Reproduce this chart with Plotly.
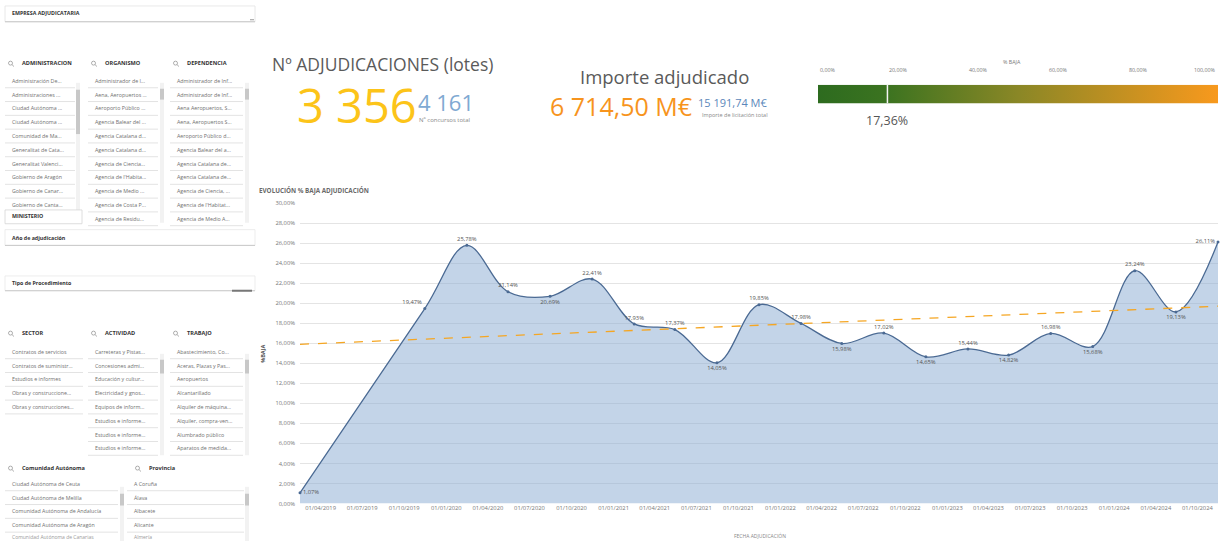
import plotly.graph_objects as go

W, H = 1223, 545
FONT = "Open Sans"

# ---------------- DATA ----------------
fechas = ["2019-02-15", "2019-11-15", "2020-02-15", "2020-05-15", "2020-08-15",
          "2020-11-15", "2021-02-15", "2021-05-15", "2021-08-15", "2021-11-15",
          "2022-02-15", "2022-05-15", "2022-08-15", "2022-11-15", "2023-02-15",
          "2023-05-15", "2023-08-15", "2023-11-15", "2024-02-15", "2024-05-15",
          "2024-08-15"]
baja_pct = [1.07, 19.47, 25.78, 21.14, 20.69, 22.41, 17.93, 17.37, 14.05, 19.85,
            17.98, 15.98, 17.02, 14.65, 15.44, 14.82, 16.98, 15.68, 23.24, 19.13,
            26.11]
tendencia_fechas = [fechas[0], fechas[-1]]
tendencia_pct = [15.9, 19.7]

x_tick_fechas = ["2019-04-01", "2019-07-01", "2019-10-01", "2020-01-01", "2020-04-01",
                 "2020-07-01", "2020-10-01", "2021-01-01", "2021-04-01", "2021-07-01",
                 "2021-10-01", "2022-01-01", "2022-04-01", "2022-07-01", "2022-10-01",
                 "2023-01-01", "2023-04-01", "2023-07-01", "2023-10-01", "2024-01-01",
                 "2024-04-01", "2024-07-01"]
x_tick_labels = ["01/04/2019", "01/07/2019", "01/10/2019", "01/01/2020", "01/04/2020",
                 "01/07/2020", "01/10/2020", "01/01/2021", "01/04/2021", "01/07/2021",
                 "01/10/2021", "01/01/2022", "01/04/2022", "01/07/2022", "01/10/2022",
                 "01/01/2023", "01/04/2023", "01/07/2023", "01/10/2023", "01/01/2024",
                 "01/04/2024", "01/10/2024"]
y_tick_vals = [0, 2, 4, 6, 8, 10, 12, 14, 16, 18, 20, 22, 24, 26, 28, 30]
y_tick_labels = ["0,00%", "2,00%", "4,00%", "6,00%", "8,00%", "10,00%", "12,00%",
                 "14,00%", "16,00%", "18,00%", "20,00%", "22,00%", "24,00%",
                 "26,00%", "28,00%", "30,00%"]

n_adjudicaciones = "3 356"
n_concursos = "4 161"
importe_adjudicado = "6 714,50 M€"
importe_licitacion = "15 191,74 M€"
gauge_min, gauge_max = 0, 100
gauge_valor = 17.36
gauge_ticks = [0, 20, 40, 60, 80, 100]
gauge_tick_labels = ["0,00%", "20,00%", "40,00%", "60,00%", "80,00%", "100,00%"]

administracion = ["Administración De...", "Administraciones ...", "Ciudad Autónoma ...",
                  "Ciudad Autónoma ...", "Comunidad de Ma...", "Generalitat de Cata...",
                  "Generalitat Valenci...", "Gobierno de Aragón", "Gobierno de Canar...",
                  "Gobierno de Canta..."]
organismo = ["Administrador de I...", "Aena, Aeropuertos ...", "Aeroporto Público ...",
             "Agencia Balear del ...", "Agencia Catalana d...", "Agencia Catalana d...",
             "Agencia de Ciencia...", "Agencia de l'Habita...", "Agencia de Medio ...",
             "Agencia de Costa P...", "Agencia de Residu..."]
dependencia = ["Administrador de Inf...", "Administrador de Inf...", "Aena Aeropuertos, S...",
               "Aena, Aeropuertos S...", "Aeroporto Público d...", "Agencia Balear del a...",
               "Agencia Catalana de...", "Agencia Catalana de...", "Agencia de Ciencia, ...",
               "Agencia de l'Habitat...", "Agencia de Medio A..."]
sector = ["Contratos de servicios", "Contratos de suministr...", "Estudios e informes",
          "Obras y construccione...", "Obras y construcciones..."]
actividad = ["Carreteras y Pistas...", "Concesiones admi...", "Educación y cultur...",
             "Electricidad y gnos...", "Equipos de inform...", "Estudios e informe...",
             "Estudios e informe...", "Estudios e informe..."]
trabajo = ["Abastecimiento, Co...", "Aceras, Plazas y Pas...", "Aeropuertos",
           "Alcantarillado", "Alquiler de máquina...", "Alquiler, compra-ven...",
           "Alumbrado público", "Aparatos de medida..."]
comunidad = ["Ciudad Autónoma de Ceuta", "Ciudad Autónoma de Melilla",
             "Comunidad Autónoma de Andalucía", "Comunidad Autónoma de Aragón",
             "Comunidad Autónoma de Canarias"]
provincia = ["A Coruña", "Álava", "Albacete", "Alicante", "Almería"]

label_pos = ["middle right", "top left", "top center", "top center", "bottom center",
             "top center", "top center", "top center", "bottom center", "top center",
             "top center", "bottom center", "top center", "bottom center", "top center",
             "bottom center", "top center", "bottom center", "top center", "bottom center",
             "middle left"]


def px(x):
    return x / W


def py(y):
    return 1 - y / H


fig = go.Figure()
annotations = []
shapes = []


def txt(x, y, s, size=6, color="#666", bold=False, xanchor="left", family=FONT, angle=0):
    annotations.append(dict(
        x=px(x), y=py(y), xref="paper", yref="paper", text=("<b>%s</b>" % s) if bold else s,
        showarrow=False, xanchor=xanchor, yanchor="middle", textangle=angle,
        font=dict(size=size, color=color, family=family)))


def rect(x0, y0, x1, y1, fill="rgba(0,0,0,0)", line="rgba(0,0,0,0)", lw=1):
    shapes.append(dict(type="rect", xref="paper", yref="paper", x0=px(x0), x1=px(x1),
                       y0=py(y1), y1=py(y0), fillcolor=fill, line=dict(color=line, width=lw),
                       layer="above"))


def hline(x0, x1, y, color="#e6e6e6", w=1):
    shapes.append(dict(type="line", xref="paper", yref="paper", x0=px(x0), x1=px(x1),
                       y0=py(y), y1=py(y), line=dict(color=color, width=w), layer="above"))


def lens(x, y):
    shapes.append(dict(type="circle", xref="paper", yref="paper", x0=px(x - 2.5), x1=px(x + 1.5),
                       y0=py(y + 2), y1=py(y - 2), line=dict(color="#999", width=0.8)))
    shapes.append(dict(type="line", xref="paper", yref="paper", x0=px(x + 1), x1=px(x + 3),
                       y0=py(y + 1.5), y1=py(y + 3.5), line=dict(color="#999", width=0.8)))


def scrollbar(x, y0, y1, t0, t1):
    rect(x, y0, x + 4, y1, fill="#f2f2f2")
    rect(x, t0, x + 4, t1, fill="#c8c8c8")


def listbox(x, y0, items, width, size=5.3):
    for i, s in enumerate(items):
        yy = y0 + i * 14
        txt(x + 5, yy, s, size=size, color="#707070")
        hline(x, x + width, yy + 7, color="#e3e3e3")


# ---------------- MAIN CHART ----------------
fig.add_trace(go.Scatter(
    x=fechas, y=baja_pct, mode="lines+markers+text", line=dict(color="#4b6a93", width=1.3, shape="spline", smoothing=1.0),
    marker=dict(size=3, color="#4b6a93"), fill="tozeroy", fillcolor="rgba(140,172,210,0.52)",
    text=[("%.2f%%" % v).replace(".", ",") for v in baja_pct], textposition=label_pos,
    textfont=dict(size=5.8, color="#555", family=FONT), cliponaxis=False,
    xaxis="x", yaxis="y", showlegend=False, hoverinfo="skip"))
fig.add_trace(go.Scatter(
    x=tendencia_fechas, y=tendencia_pct, mode="lines",
    line=dict(color="#f5a623", width=1.3, dash="dash"), xaxis="x", yaxis="y",
    showlegend=False, hoverinfo="skip"))

# ---------------- GAUGE ----------------
fig.add_trace(go.Scatter(
    x=[gauge_min, gauge_max, gauge_max, gauge_min, gauge_min], y=[0, 0, 1, 1, 0],
    mode="lines", line=dict(width=0), fill="toself",
    fillgradient=dict(type="horizontal",
                      colorscale=[[0, "#2d6b1f"], [0.17, "#3b7320"], [0.5, "#8a8726"], [1, "#f8991d"]]),
    xaxis="x2", yaxis="y2", showlegend=False, hoverinfo="skip"))
fig.add_trace(go.Scatter(
    x=[gauge_valor, gauge_valor], y=[0, 1], mode="lines", line=dict(color="#f4f4f4", width=1.5),
    xaxis="x2", yaxis="y2", showlegend=False, hoverinfo="skip"))

for v, lab in zip(gauge_ticks, gauge_tick_labels):
    anchor = "left" if v == gauge_min else ("right" if v == gauge_max else "center")
    annotations.append(dict(x=v, y=1.45, xref="x2", yref="y2 domain", text=lab, showarrow=False,
                            xanchor=anchor, yanchor="bottom", font=dict(size=5.3, color="#777", family=FONT)))
annotations.append(dict(x=gauge_valor, y=-0.35, xref="x2", yref="y2 domain", text=("%.2f%%" % gauge_valor).replace(".", ","),
                        showarrow=False, xanchor="center", yanchor="top",
                        font=dict(size=12.5, color="#555", family=FONT)))
txt(1012, 59, "% BAJA", size=5.3, color="#777", xanchor="center")

# ---------------- KPIs ----------------
txt(270, 61, "Nº ADJUDICACIONES (lotes)", size=17.5, color="#5a5a5a")
txt(295, 103, n_adjudicaciones, size=47, color="#fcc419")
txt(416, 99, n_concursos, size=22, color="#80a9d2")
txt(417, 118, "Nº concursos total", size=6, color="#888")
txt(664, 74, "Importe adjudicado", size=18.5, color="#5a5a5a", xanchor="center")
txt(548, 104, importe_adjudicado, size=25, color="#f7941d")
txt(696, 100, importe_licitacion, size=11, color="#5b87ba")
txt(700, 113, "Importe de licitación total", size=5.5, color="#888")

# chart titles
txt(257, 189, "EVOLUCIÓN % BAJA ADJUDICACIÓN", size=6.3, color="#6a6a6a", bold=True)
txt(263, 355, "%BAJA", size=5.5, color="#555", bold=True, xanchor="center", angle=-90)
txt(760, 539, "FECHA ADJUDICACIÓN", size=5, color="#888", xanchor="center")

# ---------------- LEFT PANEL ----------------
rect(5, 2, 255, 18, fill="#ffffff", line="#e2e2e2", lw=0.8)
hline(5, 255, 18, color="#c9c9c9")
txt(10, 9, "EMPRESA ADJUDICATARIA", size=5.3, color="#333", bold=True)
hline(250, 254, 16, color="#999")

for x, lab in [(10, "ADMINISTRACION"), (93, "ORGANISMO"), (175, "DEPENDENCIA")]:
    lens(x + 1, 60)
    txt(x + 10, 60, lab, size=5.6, color="#333", bold=True)
listbox(5, 78, administracion, 70)
listbox(88, 78, organismo, 70)
listbox(170, 78, dependencia, 73)
scrollbar(76, 80, 210, 87, 132)
scrollbar(160, 80, 222, 86, 97)
scrollbar(245, 80, 222, 86, 97)

rect(5, 209, 82, 223, fill="#ffffff", line="#d6d6d6", lw=0.8)
txt(10, 215, "MINISTERIO", size=5.3, color="#333", bold=True)

rect(5, 229, 255, 245, fill="#ffffff", line="#e8e8e8", lw=0.8)
hline(5, 255, 245, color="#c9c9c9")
txt(10, 237, "Año de adjudicación", size=5.3, color="#333", bold=True)

rect(5, 276, 255, 291, fill="#ffffff", line="#e8e8e8", lw=0.8)
hline(5, 255, 291, color="#c9c9c9")
hline(232, 252, 291, color="#777", w=2)
txt(10, 283, "Tipo de Procedimiento", size=5.3, color="#333", bold=True)

for x, lab in [(10, "SECTOR"), (93, "ACTIVIDAD"), (175, "TRABAJO")]:
    lens(x + 1, 334)
    txt(x + 10, 334, lab, size=5.6, color="#333", bold=True)
listbox(5, 353, sector, 78)
listbox(88, 353, actividad, 70)
listbox(170, 353, trabajo, 73)
scrollbar(160, 355, 458, 361, 375)
scrollbar(245, 355, 458, 361, 375)

lens(11, 471)
txt(20, 471, "Comunidad Autónoma", size=5.6, color="#333", bold=True)
lens(138, 471)
txt(147, 471, "Provincia", size=5.6, color="#333", bold=True)
listbox(5, 487, comunidad[:4], 113)
listbox(127, 487, provincia[:4], 117)
# last (partially hidden) row, kept inside the page
txt(10, 541, comunidad[4], size=5.0, color="#9a9a9a")
txt(132, 541, provincia[4], size=5.0, color="#9a9a9a")
scrollbar(120, 490, 545, 497, 509)
scrollbar(245, 490, 545, 497, 509)

# ---------------- LAYOUT ----------------
fig.update_layout(
    width=W, height=H, margin=dict(l=0, r=0, t=0, b=0),
    paper_bgcolor="white", plot_bgcolor="white",
    font=dict(family=FONT),
    xaxis=dict(domain=[px(300), px(1218)], type="date", range=[fechas[0], fechas[-1]],
               tickvals=x_tick_fechas, ticktext=x_tick_labels, tickfont=dict(size=5.8, color="#777"),
               showgrid=False, zeroline=False, showline=False, ticks="", tickangle=0),
    yaxis=dict(domain=[py(507), py(202)], range=[0, 30], tickvals=y_tick_vals, ticktext=y_tick_labels,
               tickfont=dict(size=5.8, color="#777"), gridcolor="#e4e4e4", gridwidth=1,
               zeroline=False, showline=False, ticks="", ticklabelstandoff=4),
    xaxis2=dict(domain=[px(818), px(1218)], range=[gauge_min, gauge_max], visible=False),
    yaxis2=dict(domain=[py(101), py(82)], range=[0, 1], visible=False),
    annotations=annotations, shapes=shapes,
)

fig.write_html("out.html", config={"displayModeBar": False},
               post_script="document.body.style.margin='0';document.body.style.overflow='hidden';")
